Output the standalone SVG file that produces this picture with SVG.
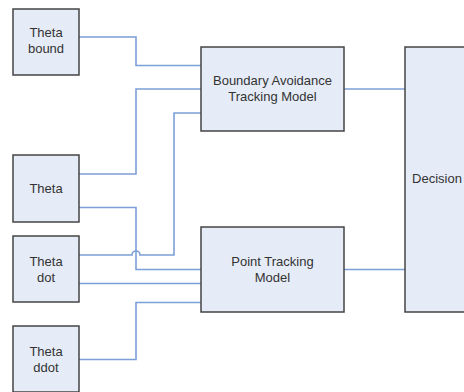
<svg xmlns="http://www.w3.org/2000/svg" width="464" height="392" viewBox="0 0 464 392">
<style>
.box{fill:#e6ecf7;stroke:#444;stroke-width:1.5}
.lbl{font-family:"Liberation Sans",Arial,sans-serif;font-size:13px;fill:#333;text-anchor:middle}
.con{fill:none;stroke:#7c9fd6;stroke-width:1.6}
</style>
<rect width="464" height="392" fill="#fff"/>
<g id="connectors">
<path class="con" d="M79,37 H136 V65.5 H201"/>
<path class="con" d="M79,174 H136 V89 H201"/>
<path class="con" d="M79,255 H132 A4,4 0 0 1 140,255 H174 V113 H201"/>
<path class="con" d="M79,207.5 H136 V269.5 H201"/>
<path class="con" d="M79,283.5 H201"/>
<path class="con" d="M79,359.5 H136 V302.5 H201"/>
<path class="con" d="M344,89 H405"/>
<path class="con" d="M344,269.5 H405"/>
</g>
<g id="theta-bound">
<rect class="box" x="13" y="9" width="66" height="66"/>
<text class="lbl" x="46" y="37">Theta</text>
<text class="lbl" x="46" y="53">bound</text>
</g>
<g id="theta">
<rect class="box" x="13" y="155" width="66" height="67"/>
<text class="lbl" x="46" y="193">Theta</text>
</g>
<g id="theta-dot">
<rect class="box" x="13" y="236" width="66" height="66"/>
<text class="lbl" x="46" y="266">Theta</text>
<text class="lbl" x="46" y="282">dot</text>
</g>
<g id="theta-ddot">
<rect class="box" x="13" y="326" width="66" height="66"/>
<text class="lbl" x="46" y="356">Theta</text>
<text class="lbl" x="46" y="372">ddot</text>
</g>
<g id="boundary-avoidance">
<rect class="box" x="201" y="47" width="143" height="84"/>
<text class="lbl" x="272.5" y="85">Boundary Avoidance</text>
<text class="lbl" x="272.5" y="101">Tracking Model</text>
</g>
<g id="point-tracking">
<rect class="box" x="201" y="227" width="143" height="85"/>
<text class="lbl" x="272.5" y="266">Point Tracking</text>
<text class="lbl" x="272.5" y="282">Model</text>
</g>
<g id="decision">
<rect class="box" x="405" y="47" width="64" height="265"/>
<text class="lbl" x="437" y="183">Decision</text>
</g>
</svg>
